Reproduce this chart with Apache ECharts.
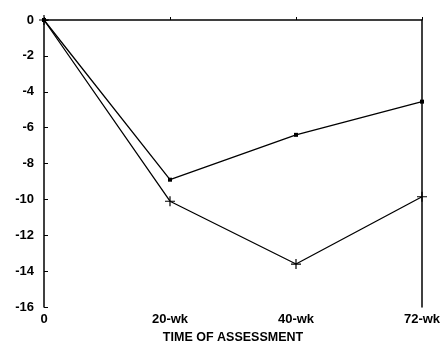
<!DOCTYPE html>
<html>
<head>
<meta charset="utf-8">
<script src="https://cdn.jsdelivr.net/npm/echarts@6/dist/echarts.min.js"></script>
<style>html,body{margin:0;padding:0;background:#fff}#c{width:445px;height:349px}</style>
</head>
<body>
<div id="c"></div>
<script>
var categories = ['0', '20-wk', '40-wk', '72-wk'];
var seriesDot = [0, -8.9, -6.4, -4.55];
var seriesPlus = [0, -10.1, -13.6, -9.85];
var yTicks = [0, -2, -4, -6, -8, -10, -12, -14, -16];

var font = 'Liberation Sans, Arial, sans-serif';
var chart = echarts.init(document.getElementById('c'));
chart.setOption({
  animation: false,
  grid: { left: 44, right: 23, top: 20, bottom: 39 },
  xAxis: {
    type: 'category',
    data: categories,
    boundaryGap: false,
    name: 'TIME OF ASSESSMENT',
    nameLocation: 'middle',
    nameGap: 23,
    nameTextStyle: { color: '#000', fontFamily: font, fontWeight: 'bold', fontSize: 12.5 },
    axisLine: { lineStyle: { color: '#000', width: 1.5 } },
    axisTick: { inside: true, length: 3, lineStyle: { color: '#000' } },
    axisLabel: { color: '#000', fontFamily: font, fontWeight: 'bold', fontSize: 13, margin: 6 },
    splitLine: { show: false }
  },
  yAxis: [{
    type: 'value',
    min: -16, max: 0, interval: 2,
    axisLine: { show: true, lineStyle: { color: '#000', width: 1.5 } },
    axisTick: { show: true, inside: true, length: 4, lineStyle: { color: '#000' } },
    axisLabel: { color: '#000', fontFamily: font, fontWeight: 'bold', fontSize: 13, margin: 10,
      formatter: function (v) { return yTicks.indexOf(v) >= 0 ? String(v) : ''; } },
    splitLine: { show: false }
  }, {
    type: 'value',
    position: 'right',
    min: -16, max: 0, interval: 2,
    axisLine: { show: true, lineStyle: { color: '#000', width: 1.5 } },
    axisTick: { show: false },
    axisLabel: { show: false },
    splitLine: { show: false }
  }],
  series: [{
    type: 'line',
    data: seriesDot,
    symbol: 'rect',
    symbolSize: 4,
    showAllSymbol: true,
    lineStyle: { color: '#000', width: 1.3 },
    itemStyle: { color: '#000' }
  }, {
    type: 'line',
    data: seriesPlus,
    symbol: 'path://M4.4,0H5.6V4.4H10V5.6H5.6V10H4.4V5.6H0V4.4H4.4Z',
    symbolSize: 10,
    showAllSymbol: true,
    lineStyle: { color: '#000', width: 1.3 },
    itemStyle: { color: '#000' }
  }]
});
</script>
</body>
</html>
